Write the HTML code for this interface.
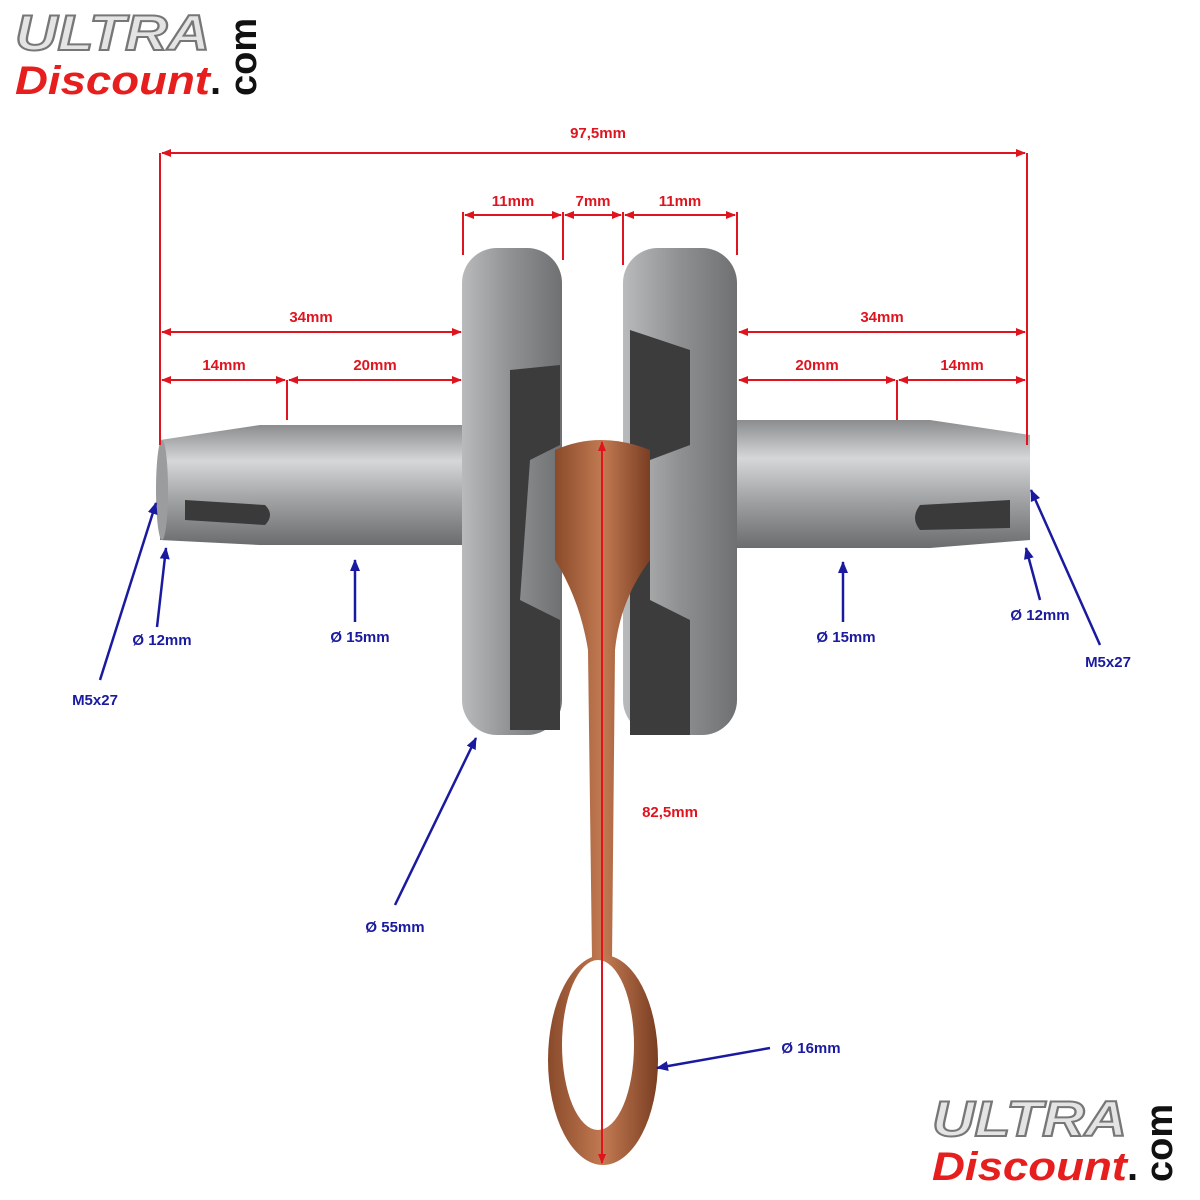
<!DOCTYPE html>
<html><head><meta charset="utf-8"><style>
html,body{margin:0;padding:0;background:#fff;}
svg{display:block}
.r{font:bold 15px "Liberation Sans",sans-serif;fill:#e0141e}
.b{font:bold 15px "Liberation Sans",sans-serif;fill:#1a1aa0}
</style></head><body>
<svg width="1200" height="1200" viewBox="0 0 1200 1200" xmlns="http://www.w3.org/2000/svg">
<defs>
<linearGradient id="sh" x1="0" y1="0" x2="0" y2="1">
<stop offset="0" stop-color="#8a8c8e"/><stop offset="0.3" stop-color="#d6d7d8"/><stop offset="0.6" stop-color="#a4a6a8"/><stop offset="1" stop-color="#6a6c6e"/></linearGradient>
<linearGradient id="fw" x1="0" y1="0" x2="1" y2="0">
<stop offset="0" stop-color="#b8babc"/><stop offset="0.5" stop-color="#8e9092"/><stop offset="1" stop-color="#6e7072"/></linearGradient>
<linearGradient id="cu" x1="0" y1="0" x2="1" y2="0">
<stop offset="0" stop-color="#8a4a2a"/><stop offset="0.5" stop-color="#c27a52"/><stop offset="1" stop-color="#7a3e22"/></linearGradient>
<marker id="ar" markerWidth="10" markerHeight="10" refX="9" refY="5" orient="auto-start-reverse" markerUnits="userSpaceOnUse"><path d="M0,1 L10,5 L0,9z" fill="#e0141e"/></marker>
<marker id="ab" markerWidth="12" markerHeight="12" refX="11" refY="6" orient="auto" markerUnits="userSpaceOnUse"><path d="M0,1 L12,6 L0,11z" fill="#1a1aa0"/></marker>
</defs>
<!-- logos -->
<g font-family="Liberation Sans,sans-serif" font-weight="bold" font-style="italic">
<text x="15" y="50" font-size="50" fill="#e4e4e4" stroke="#777" stroke-width="2" textLength="195" lengthAdjust="spacingAndGlyphs">ULTRA</text>
<text x="15" y="94" font-size="40" fill="#e61e1e" textLength="195" lengthAdjust="spacingAndGlyphs">Discount</text>
<text x="210" y="94" font-size="40" fill="#111" font-style="normal">.</text>
<text transform="translate(256,96) rotate(-90)" font-size="38" fill="#111" font-style="normal">com</text>
<text x="932" y="1136" font-size="50" fill="#e4e4e4" stroke="#777" stroke-width="2" textLength="195" lengthAdjust="spacingAndGlyphs">ULTRA</text>
<text x="932" y="1180" font-size="40" fill="#e61e1e" textLength="195" lengthAdjust="spacingAndGlyphs">Discount</text>
<text x="1127" y="1180" font-size="40" fill="#111" font-style="normal">.</text>
<text transform="translate(1172,1182) rotate(-90)" font-size="38" fill="#111" font-style="normal">com</text>
</g>
<!-- shafts -->
<path d="M160,440 L260,425 L470,425 L470,545 L260,545 L160,540 Z" fill="url(#sh)"/>
<ellipse cx="162" cy="490" rx="6" ry="50" fill="#9a9c9e"/>
<path d="M185,500 L265,505 Q275,515 265,525 L185,520 Z" fill="#3a3a3a"/>
<path d="M730,420 L930,420 L1030,435 L1030,540 L930,548 L730,548 Z" fill="url(#sh)"/>
<path d="M920,505 L1010,500 L1010,528 L920,530 Q910,518 920,505Z" fill="#3a3a3a"/>
<!-- flywheels -->
<rect x="462" y="248" width="100" height="487" rx="35" fill="url(#fw)"/>
<path d="M510,370 L560,365 L560,445 L530,460 L520,600 L560,620 L560,730 L510,730 Z" fill="#3c3c3c"/>
<rect x="623" y="248" width="114" height="487" rx="35" fill="url(#fw)"/>
<path d="M630,330 L690,350 L690,445 L650,460 L650,600 L690,620 L690,735 L630,735 Z" fill="#3c3c3c"/>
<!-- conrod -->
<path d="M555,450 Q600,430 650,450 L650,560 Q620,600 615,650 L612,960 L592,960 L588,650 Q580,600 555,560 Z" fill="url(#cu)"/>
<ellipse cx="603" cy="1060" rx="55" ry="105" fill="url(#cu)"/>
<ellipse cx="598" cy="1045" rx="36" ry="85" fill="#fff"/>
<!-- red dims -->
<g stroke="#e0141e" stroke-width="2" fill="none">
<line x1="160" y1="153" x2="160" y2="445"/><line x1="1027" y1="153" x2="1027" y2="445"/>
<line x1="162" y1="153" x2="1025" y2="153" marker-start="url(#ar)" marker-end="url(#ar)"/>
<line x1="463" y1="212" x2="463" y2="255"/><line x1="563" y1="212" x2="563" y2="260"/>
<line x1="623" y1="212" x2="623" y2="265"/><line x1="737" y1="212" x2="737" y2="255"/>
<line x1="465" y1="215" x2="561" y2="215" marker-start="url(#ar)" marker-end="url(#ar)"/>
<line x1="565" y1="215" x2="621" y2="215" marker-start="url(#ar)" marker-end="url(#ar)"/>
<line x1="625" y1="215" x2="735" y2="215" marker-start="url(#ar)" marker-end="url(#ar)"/>
<line x1="162" y1="332" x2="461" y2="332" marker-start="url(#ar)" marker-end="url(#ar)"/>
<line x1="739" y1="332" x2="1025" y2="332" marker-start="url(#ar)" marker-end="url(#ar)"/>
<line x1="287" y1="380" x2="287" y2="420"/><line x1="897" y1="380" x2="897" y2="420"/>
<line x1="162" y1="380" x2="285" y2="380" marker-start="url(#ar)" marker-end="url(#ar)"/>
<line x1="289" y1="380" x2="461" y2="380" marker-start="url(#ar)" marker-end="url(#ar)"/>
<line x1="739" y1="380" x2="895" y2="380" marker-start="url(#ar)" marker-end="url(#ar)"/>
<line x1="899" y1="380" x2="1025" y2="380" marker-start="url(#ar)" marker-end="url(#ar)"/>
<line x1="602" y1="442" x2="602" y2="1163" marker-start="url(#ar)" marker-end="url(#ar)"/>
</g>
<text class="r" x="598" y="138" text-anchor="middle">97,5mm</text>
<text class="r" x="513" y="206" text-anchor="middle">11mm</text>
<text class="r" x="593" y="206" text-anchor="middle">7mm</text>
<text class="r" x="680" y="206" text-anchor="middle">11mm</text>
<text class="r" x="311" y="322" text-anchor="middle">34mm</text>
<text class="r" x="882" y="322" text-anchor="middle">34mm</text>
<text class="r" x="224" y="370" text-anchor="middle">14mm</text>
<text class="r" x="375" y="370" text-anchor="middle">20mm</text>
<text class="r" x="817" y="370" text-anchor="middle">20mm</text>
<text class="r" x="962" y="370" text-anchor="middle">14mm</text>
<text class="r" x="670" y="817" text-anchor="middle">82,5mm</text>
<!-- blue arrows -->
<g stroke="#1a1aa0" stroke-width="2.5" fill="none">
<line x1="100" y1="680" x2="156" y2="503" marker-end="url(#ab)"/>
<line x1="157" y1="627" x2="166" y2="548" marker-end="url(#ab)"/>
<line x1="355" y1="622" x2="355" y2="560" marker-end="url(#ab)"/>
<line x1="843" y1="622" x2="843" y2="562" marker-end="url(#ab)"/>
<line x1="1040" y1="600" x2="1026" y2="548" marker-end="url(#ab)"/>
<line x1="1100" y1="645" x2="1031" y2="490" marker-end="url(#ab)"/>
<line x1="395" y1="905" x2="476" y2="738" marker-end="url(#ab)"/>
<line x1="770" y1="1048" x2="657" y2="1068" marker-end="url(#ab)"/>
</g>
<text class="b" x="95" y="705" text-anchor="middle">M5x27</text>
<text class="b" x="162" y="645" text-anchor="middle">Ø 12mm</text>
<text class="b" x="360" y="642" text-anchor="middle">Ø 15mm</text>
<text class="b" x="846" y="642" text-anchor="middle">Ø 15mm</text>
<text class="b" x="1040" y="620" text-anchor="middle">Ø 12mm</text>
<text class="b" x="1108" y="667" text-anchor="middle">M5x27</text>
<text class="b" x="395" y="932" text-anchor="middle">Ø 55mm</text>
<text class="b" x="811" y="1053" text-anchor="middle">Ø 16mm</text>
</svg>
</body></html>
